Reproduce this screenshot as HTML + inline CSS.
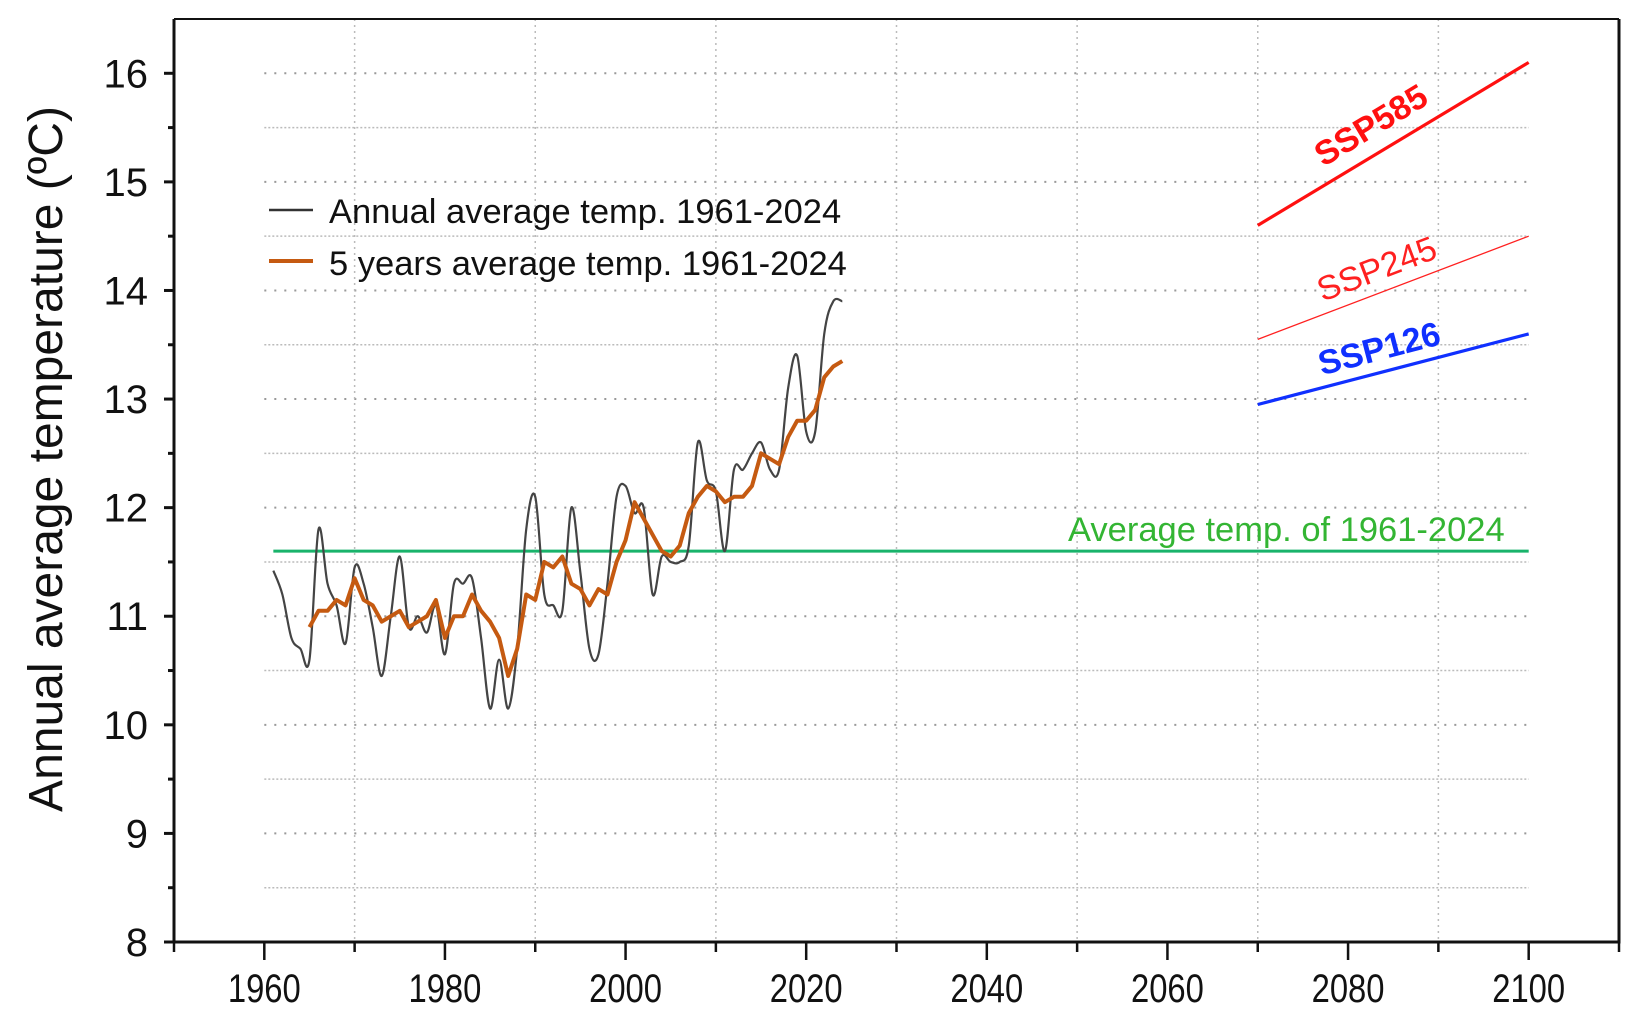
<!DOCTYPE html>
<html><head><meta charset="utf-8"><style>
html,body{margin:0;padding:0;background:#fff;}
svg{display:block;font-family:"Liberation Sans",Arial,sans-serif;}
</style></head><body>
<svg id="chart" width="1637" height="1022" viewBox="0 0 1637 1022" xmlns="http://www.w3.org/2000/svg">
<g id="grid"></g>
<g id="series"></g>
<g id="axes"></g>
<text transform="translate(62,459) rotate(-90)" text-anchor="middle" font-size="48" fill="#111">Annual average temperature (ºC)</text>
<g>
 <line x1="269" y1="210" x2="313" y2="210" stroke="#333" stroke-width="2.5"/>
 <text x="329" y="223" font-size="34.5" fill="#111">Annual average temp. 1961-2024</text>
 <line x1="269" y1="261" x2="313" y2="261" stroke="#c55a11" stroke-width="4"/>
 <text x="329" y="275" font-size="34.5" fill="#111">5 years average temp. 1961-2024</text>
</g>
</svg>
<script>
const years = [];
for (let y = 1961; y <= 2024; y++) years.push(y);
const annualTemps = [11.42,11.2,10.8,10.7,10.6,11.8,11.3,11.1,10.75,11.45,11.3,10.9,10.45,11.0,11.55,10.9,11.0,10.85,11.1,10.65,11.3,11.3,11.35,10.8,10.15,10.6,10.15,10.7,11.8,12.1,11.2,11.1,11.05,12.0,11.4,10.7,10.65,11.3,12.1,12.2,11.95,12.0,11.2,11.55,11.5,11.5,11.65,12.6,12.25,12.15,11.6,12.35,12.35,12.5,12.6,12.35,12.35,13.1,13.4,12.7,12.7,13.6,13.9,13.9];
const fiveYearStart = 1965;
const fiveYearTemps = [10.9,11.05,11.05,11.15,11.1,11.35,11.15,11.1,10.95,11.0,11.05,10.9,10.95,11.0,11.15,10.8,11.0,11.0,11.2,11.05,10.95,10.8,10.45,10.7,11.2,11.15,11.5,11.45,11.55,11.3,11.25,11.1,11.25,11.2,11.5,11.7,12.05,11.9,11.75,11.6,11.55,11.65,11.95,12.1,12.2,12.15,12.05,12.1,12.1,12.2,12.5,12.45,12.4,12.65,12.8,12.8,12.9,13.2,13.3,13.35];
const scenarioNames = ["SSP585","SSP245","SSP126"];
const scenarioYears = [2070, 2100];
const scenarioStart = [14.6, 13.55, 12.95];
const scenarioEnd = [16.1, 14.5, 13.6];
const averageTemp = 11.6;
const averageRange = [1961, 2100];
const xTicks = [1960,1980,2000,2020,2040,2060,2080,2100];
const yTicks = [8,9,10,11,12,13,14,15,16];

const NS = "http://www.w3.org/2000/svg";
const X0 = 174, X1 = 1619, Y0 = 942, Y1 = 19;
const xMin = 1950, xMax = 2110, yMin = 8, yMax = 16.5;
const xs = v => X0 + (v - xMin) / (xMax - xMin) * (X1 - X0);
const ys = v => Y0 - (v - yMin) / (yMax - yMin) * (Y0 - Y1);
function mk(tag, attrs, parent){const e=document.createElementNS(NS,tag);for(const k in attrs)e.setAttribute(k,attrs[k]);parent.appendChild(e);return e;}
const grid=document.getElementById('grid'), series=document.getElementById('series'), axes=document.getElementById('axes');

for (let t = 8.5; t <= 16; t += 0.5) {
  const major = Number.isInteger(t);
  const l = mk('line',{x1:xs(1960),x2:xs(2100),y1:ys(t),y2:ys(t),stroke:major?'#999':'#bbb','stroke-width':major?2:1.5,'stroke-dasharray':major?'2,8':'2,2'},grid);
  
  
}
for (let yr = 1970; yr <= 2090; yr += 20) {
  const l = mk('line',{x1:xs(yr),x2:xs(yr),y1:Y1,y2:Y0,stroke:'#bbb','stroke-width':1.5,'stroke-dasharray':'2,4'},grid);
  
  
}

const avg = mk('line',{x1:xs(averageRange[0]),x2:xs(averageRange[1]),y1:ys(averageTemp),y2:ys(averageTemp),stroke:'#19b36b','stroke-width':3},series);


const avgLab = mk('text',{x:xs(2100)-24,y:ys(averageTemp)-10,'text-anchor':'end','font-size':34.5,fill:'#33b533'},series);
avgLab.textContent = 'Average temp. of 1961-2024';



function smoothPath(pts){
  let d = `M${pts[0][0]},${pts[0][1]}`;
  for (let i = 0; i < pts.length - 1; i++) {
    const p0 = pts[Math.max(0,i-1)], p1 = pts[i], p2 = pts[i+1], p3 = pts[Math.min(pts.length-1,i+2)];
    const c1x = p1[0] + (p2[0]-p0[0])/6, c1y = p1[1] + (p2[1]-p0[1])/6;
    const c2x = p2[0] - (p3[0]-p1[0])/6, c2y = p2[1] - (p3[1]-p1[1])/6;
    d += ` C${c1x},${c1y} ${c2x},${c2y} ${p2[0]},${p2[1]}`;
  }
  return d;
}
const annPts = annualTemps.map((v,i)=>[xs(years[i]), ys(v)]);
const ann = mk('path',{d:smoothPath(annPts),fill:'none',stroke:'#444','stroke-width':2.2},series);



const fivePts = fiveYearTemps.map((v,i)=>xs(fiveYearStart+i)+','+ys(v)).join(' ');
const five = mk('polyline',{points:fivePts,fill:'none',stroke:'#c55a11','stroke-width':4,'stroke-linejoin':'round'},series);



const sColors = ['#ff1010','#ff2020','#1030ff'];
const sWidths = [3.2,1.3,3.2];
const sWeights = ['bold','normal','bold'];
const sOffsets = [16,12,12];
scenarioNames.forEach((nm,i)=>{
  const xa=xs(scenarioYears[0]), ya=ys(scenarioStart[i]), xb=xs(scenarioYears[1]), yb=ys(scenarioEnd[i]);
  const l = mk('line',{x1:xa,y1:ya,x2:xb,y2:yb,stroke:sColors[i],'stroke-width':sWidths[i]},series);
  
  
  const ang = Math.atan2(yb-ya, xb-xa)*180/Math.PI;
  const t = 0.47, cx = xa+(xb-xa)*t, cy = ya+(yb-ya)*t;
  const tx = mk('text',{transform:`translate(${cx},${cy}) rotate(${ang}) translate(0,${-sOffsets[i]})`,'text-anchor':'middle','font-size':34,'font-weight':sWeights[i],fill:sColors[i]},series);
  tx.textContent = nm;
  
  
});

const frame = mk('path',{d:`M${X0},${Y1} L${X0},${Y0} L${X1},${Y0} L${X1},${Y1}`,fill:'none',stroke:'#111','stroke-width':3},axes);


const topL = mk('line',{x1:X0,x2:X1,y1:Y1,y2:Y1,stroke:'#111','stroke-width':2},axes);



yTicks.forEach(t=>{
  const tk = mk('line',{x1:X0-10,x2:X0,y1:ys(t),y2:ys(t),stroke:'#111','stroke-width':3},axes);
  
  
  const lb = mk('text',{x:X0-26,y:ys(t)+14,'text-anchor':'end','font-size':40,fill:'#111'},axes);
  lb.textContent = t;
  
  
});
for (let t = 8.5; t < 16.5; t += 1) {
  const tk = mk('line',{x1:X0-6,x2:X0,y1:ys(t),y2:ys(t),stroke:'#111','stroke-width':3},axes);
  
  
}
xTicks.forEach(t=>{
  const tk = mk('line',{x1:xs(t),x2:xs(t),y1:Y0,y2:Y0+18,stroke:'#111','stroke-width':2.5},axes);
  
  
  const lb = mk('text',{transform:`translate(${xs(t)},${Y0+60}) scale(0.82,1)`,'text-anchor':'middle','font-size':40,fill:'#111'},axes);
  lb.textContent = t;
  
  
});
for (let t = 1950; t <= 2110; t += 20) {
  const tk = mk('line',{x1:xs(t),x2:xs(t),y1:Y0,y2:Y0+10,stroke:'#111','stroke-width':2.5},axes);
  
  
}
</script>
</body></html>
